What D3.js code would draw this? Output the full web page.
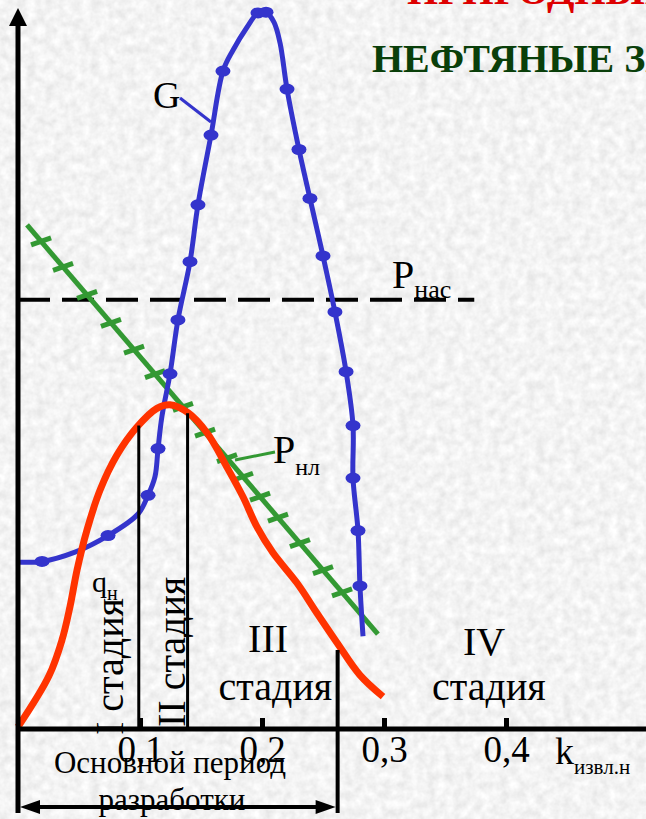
<!DOCTYPE html>
<html>
<head>
<meta charset="utf-8">
<script src="https://cdn.jsdelivr.net/npm/d3@7/dist/d3.min.js"></script>
<style>
  body { margin: 0; background: #e6e6e6; }
  svg { display: block; }
  text { font-family: "Liberation Serif", "Times New Roman", serif; fill: #000; }
</style>
</head>
<body>
<svg width="646" height="819"></svg>
<script>
'use strict';

// данные (k извлечения, условные единицы)
var tickValues = [0.1, 0.2, 0.3, 0.4];

var gCurve = [
  [0.0016, 23.2], [0.0197, 23.3], [0.0467, 24.6], [0.0738, 26.9], [0.0984, 29.9],
  [0.1066, 32.5], [0.1123, 35.1], [0.1148, 39.0], [0.118, 43.5], [0.1246, 49.4],
  [0.1311, 56.9], [0.141, 65.0], [0.1475, 72.9], [0.1582, 82.6], [0.168, 91.5],
  [0.1762, 94.4], [0.1877, 97.6], [0.1967, 99.6], [0.2033, 99.7], [0.2098, 98.3],
  [0.2148, 95.4], [0.2205, 89.0], [0.2303, 80.6], [0.2393, 73.8], [0.25, 65.8],
  [0.2598, 58.0], [0.2689, 49.7], [0.2746, 42.2], [0.2746, 34.9], [0.2787, 27.6],
  [0.2803, 19.9], [0.2828, 12.9]
];

var gDots = [
  [0.0197, 23.3], [0.0738, 26.9], [0.1066, 32.5], [0.1148, 39.0], [0.1246, 49.4],
  [0.1311, 56.9], [0.141, 65.0], [0.1475, 72.9], [0.1582, 82.6], [0.168, 91.5],
  [0.1967, 99.6], [0.2033, 99.7], [0.2205, 89.0], [0.2303, 80.6], [0.2393, 73.8],
  [0.25, 65.8], [0.2598, 58.0], [0.2689, 49.7], [0.2746, 42.2], [0.2746, 34.9],
  [0.2787, 27.6], [0.2803, 19.9]
];

var qCurve = [
  [0, 0.3], [0.0254, 7.4], [0.0361, 12.4], [0.0426, 17.0],
  [0.0484, 22.1], [0.0566, 27.7], [0.0672, 33.2], [0.0811, 38.1], [0.0975, 42.0],
  [0.1139, 44.6], [0.1246, 45.1], [0.1393, 44.0], [0.1549, 41.2], [0.1713, 36.4],
  [0.1844, 32.3], [0.1959, 28.1], [0.209, 24.5], [0.2287, 20.3], [0.2451, 16.1],
  [0.2615, 12.0], [0.2803, 7.5], [0.2992, 4.5]
];

var pnlLine = [[0.0074, 70.1], [0.295, 13.2]];
var pnlTicks = [0.0189, 0.0369, 0.0566, 0.0762, 0.0951, 0.1123, 0.1352, 0.1533,
  0.1713, 0.1844, 0.1984, 0.2131, 0.2311, 0.25, 0.2656];

var pnas = 59.7;
var pnasEnd = 0.374;

var stageBounds = [0.099, 0.139, 0.262];
var stageTops = [42.2, 43.9, 11.0];

var svg = d3.select('svg');
var width = +svg.attr('width');
var height = +svg.attr('height');

var x = d3.scaleLinear().domain([0, 0.5]).range([18, 628]);
var y = d3.scaleLinear().domain([0, 100]).range([729, 10]);

// фон "бумага"
var defs = svg.append('defs');
var paper = defs.append('filter').attr('id', 'paper')
  .attr('x', 0).attr('y', 0).attr('width', '100%').attr('height', '100%');
paper.append('feTurbulence')
  .attr('type', 'fractalNoise')
  .attr('baseFrequency', 0.11)
  .attr('numOctaves', 3)
  .attr('seed', 4);
paper.append('feColorMatrix')
  .attr('type', 'matrix')
  .attr('values', '0.3 0 0 0 0.75  0.3 0 0 0 0.75  0.3 0 0 0 0.75  0 0 0 0 1');

svg.append('rect')
  .attr('width', width).attr('height', height)
  .attr('filter', 'url(#paper)');

// заголовки
svg.append('text')
  .attr('x', 407).attr('y', 4)
  .style('font-size', '40px').style('font-weight', 'bold')
  .style('fill', '#dd0000')
  .text('ПРИРОДНЫЕ РЕЖИМЫ');

svg.append('text')
  .attr('x', 372).attr('y', 72)
  .style('font-size', '40px').style('font-weight', 'bold')
  .style('fill', '#0a3f0a')
  .text('НЕФТЯНЫЕ ЗАЛЕЖИ');

// Рнас
svg.append('line')
  .attr('x1', x(0)).attr('x2', x(pnasEnd))
  .attr('y1', y(pnas)).attr('y2', y(pnas))
  .attr('stroke', '#000').attr('stroke-width', 4)
  .attr('stroke-dasharray', '32,12');

// Рнл
var pk = d3.scaleLinear()
  .domain([pnlLine[0][0], pnlLine[1][0]])
  .range([pnlLine[0][1], pnlLine[1][1]]);

svg.append('line')
  .attr('x1', x(pnlLine[0][0])).attr('y1', y(pnlLine[0][1]))
  .attr('x2', x(pnlLine[1][0])).attr('y2', y(pnlLine[1][1]))
  .attr('stroke', '#339933').attr('stroke-width', 5);

svg.append('g')
  .selectAll('line')
  .data(pnlTicks)
  .enter()
  .append('line')
  .attr('x1', function (d) { return x(d) - 10; })
  .attr('y1', function (d) { return y(pk(d)) + 3.5; })
  .attr('x2', function (d) { return x(d) + 10; })
  .attr('y2', function (d) { return y(pk(d)) - 3.5; })
  .attr('stroke', '#339933').attr('stroke-width', 5);

svg.append('line')
  .attr('x1', 235).attr('y1', 460).attr('x2', 275).attr('y2', 452)
  .attr('stroke', '#339933').attr('stroke-width', 3);

var line = d3.line()
  .x(function (d) { return x(d[0]); })
  .y(function (d) { return y(d[1]); })
  .curve(d3.curveCatmullRom.alpha(0.5));

// G
svg.append('path')
  .datum(gCurve)
  .attr('d', line)
  .attr('fill', 'none')
  .attr('stroke', '#3434cc').attr('stroke-width', 5);

svg.append('g')
  .selectAll('ellipse')
  .data(gDots)
  .enter()
  .append('ellipse')
  .attr('cx', function (d) { return x(d[0]); })
  .attr('cy', function (d) { return y(d[1]); })
  .attr('rx', 7.5).attr('ry', 5.5)
  .attr('fill', '#3434cc');

svg.append('line')
  .attr('x1', 180).attr('y1', 98).attr('x2', 211).attr('y2', 122)
  .attr('stroke', '#3434cc').attr('stroke-width', 3);

// q
svg.append('path')
  .datum(qCurve)
  .attr('d', line)
  .attr('fill', 'none')
  .attr('stroke', '#ff3300').attr('stroke-width', 7);

// границы стадий
svg.append('g')
  .selectAll('line')
  .data(stageBounds)
  .enter()
  .append('line')
  .attr('x1', function (d) { return x(d); })
  .attr('x2', function (d) { return x(d); })
  .attr('y1', function (d, i) { return y(stageTops[i]); })
  .attr('y2', function (d, i) { return i === 2 ? 813 : y(0); })
  .attr('stroke', '#000')
  .attr('stroke-width', function (d, i) { return i === 2 ? 4 : 3; });

// ось X
var ru = d3.formatLocale({ decimal: ',', thousands: ' ', grouping: [3], currency: ['', ''] });
var xAxis = d3.axisBottom(x)
  .tickValues(tickValues)
  .tickFormat(ru.format('.1f'))
  .tickSizeInner(-11)
  .tickSizeOuter(0)
  .tickPadding(7);

var gx = svg.append('g')
  .attr('transform', 'translate(0,' + y(0) + ')')
  .call(xAxis);
gx.select('.domain').remove();
gx.selectAll('.tick line').attr('stroke', '#000').attr('stroke-width', 5);
gx.selectAll('.tick text')
  .attr('font-family', null).attr('font-size', null)
  .style('font-size', '37px');

svg.append('line')
  .attr('x1', x(0) - 2).attr('x2', width)
  .attr('y1', y(0)).attr('y2', y(0))
  .attr('stroke', '#000').attr('stroke-width', 5);

// ось Y со стрелкой
svg.append('line')
  .attr('x1', x(0)).attr('x2', x(0))
  .attr('y1', 813).attr('y2', 22)
  .attr('stroke', '#000').attr('stroke-width', 5);
svg.append('path')
  .attr('d', 'M' + x(0) + ',8L' + (x(0) - 9) + ',26L' + (x(0) + 9) + ',26Z')
  .attr('fill', '#000');

// основной период разработки
var ay = 807;
var ax0 = x(0) + 2;
var ax1 = x(stageBounds[2]) - 2;
svg.append('line')
  .attr('x1', ax0 + 6).attr('x2', ax1 - 6)
  .attr('y1', ay).attr('y2', ay)
  .attr('stroke', '#000').attr('stroke-width', 4);
svg.append('path')
  .attr('d', 'M' + ax0 + ',' + ay + 'l20,-7v14Z' + 'M' + ax1 + ',' + ay + 'l-20,-7v14Z')
  .attr('fill', '#000');

svg.append('text')
  .attr('x', 170).attr('y', 773)
  .attr('text-anchor', 'middle')
  .style('font-size', '31px')
  .text('Основной период');
svg.append('text')
  .attr('x', 172).attr('y', 810)
  .attr('text-anchor', 'middle')
  .style('font-size', '31px')
  .text('разработки');

// подписи
var lab = svg.append('g');

lab.append('text').attr('x', 153).attr('y', 108)
  .style('font-size', '38px').text('G');

var pn = lab.append('text').attr('x', 392).attr('y', 288).style('font-size', '40px');
pn.append('tspan').text('P');
pn.append('tspan').attr('dy', 10).style('font-size', '26px').text('нас');

var pl = lab.append('text').attr('x', 273).attr('y', 463).style('font-size', '40px');
pl.append('tspan').text('P');
pl.append('tspan').attr('dy', 12).style('font-size', '24px').text('нл');

var kl = lab.append('text').attr('x', 555).attr('y', 764).style('font-size', '38px');
kl.append('tspan').text('k');
kl.append('tspan').attr('dy', 10).style('font-size', '21px').text('извл.н');

var ql = lab.append('text').attr('x', 92).attr('y', 592).style('font-size', '30px');
ql.append('tspan').text('q');
ql.append('tspan').attr('dy', 8).style('font-size', '20px').text('н');

lab.append('text')
  .attr('transform', 'translate(123,735) rotate(-90)')
  .style('font-size', '40px').text('I стадия');
lab.append('text')
  .attr('transform', 'translate(185,727) rotate(-90)')
  .style('font-size', '40px').text('II стадия');

lab.append('text').attr('x', x(0.205)).attr('y', 652)
  .attr('text-anchor', 'middle').style('font-size', '40px').text('III');
lab.append('text').attr('x', x(0.211)).attr('y', 700)
  .attr('text-anchor', 'middle').style('font-size', '40px').text('стадия');
lab.append('text').attr('x', x(0.382)).attr('y', 655)
  .attr('text-anchor', 'middle').style('font-size', '40px').text('IV');
lab.append('text').attr('x', x(0.386)).attr('y', 700)
  .attr('text-anchor', 'middle').style('font-size', '40px').text('стадия');
</script>
</body>
</html>
